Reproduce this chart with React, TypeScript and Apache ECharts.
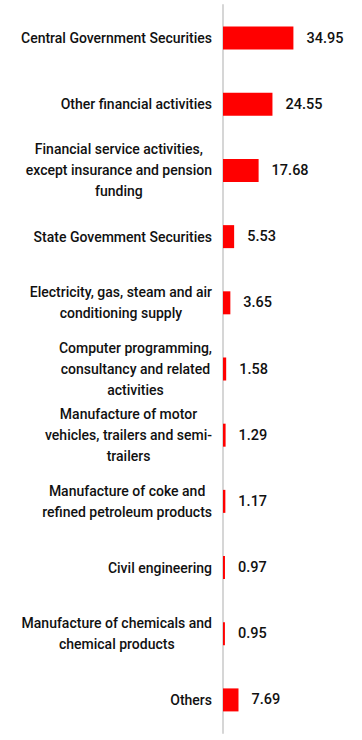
import React, { useEffect, useRef } from "react";
import * as echarts from "echarts";

const categories: string[] = [
  "Central Government Securities",
  "Other financial activities",
  "Financial service activities,\nexcept insurance and pension\nfunding",
  "State Govemment Securities",
  "Electricity, gas, steam and air\nconditioning supply",
  "Computer programming,\nconsultancy and related\nactivities",
  "Manufacture of motor\nvehicles, trailers and semi-\ntrailers",
  "Manufacture of coke and\nrefined petroleum products",
  "Civil engineering",
  "Manufacture of chemicals and\nchemical products",
  "Others",
];

const values: number[] = [34.95, 24.55, 17.68, 5.53, 3.65, 1.58, 1.29, 1.17, 0.97, 0.95, 7.69];

export default function App() {
  const ref = useRef<HTMLDivElement>(null);
  useEffect(() => {
    if (!ref.current) return;
    const chart = echarts.init(ref.current, undefined, { renderer: "svg" });
    chart.setOption({
      animation: false,
      grid: { left: 223, right: 0, top: 5, bottom: 7, containLabel: false },
      xAxis: {
        type: "value",
        min: 0,
        max: 69,
        show: false,
      },
      yAxis: {
        type: "category",
        inverse: true,
        data: categories,
        axisLine: { show: true, lineStyle: { color: "#d6d6d6", width: 2 } },
        axisTick: { show: false },
        splitLine: { show: false },
        axisLabel: {
          margin: 11,
          color: "#111111",
          fontFamily: "Roboto",
          fontSize: 14,
          fontWeight: 500,
          lineHeight: 21,
          formatter: (v: string) => `{c|${v}}`,
          rich: {
            c: {
              align: "center",
              color: "#111111",
              fontFamily: "Roboto",
              fontSize: 14,
              fontWeight: 500,
              lineHeight: 21,
            },
          },
        },
      },
      series: [
        {
          type: "bar",
          data: values,
          barWidth: 23,
          itemStyle: { color: "#ff0000" },
          label: {
            show: true,
            position: "right",
            distance: 13,
            color: "#111111",
            fontFamily: "Roboto",
            fontSize: 14.5,
            fontWeight: 500,
            formatter: (p: any) => p.value.toFixed(2),
          },
        },
      ],
    });
    return () => chart.dispose();
  }, []);
  return (
    <div
      ref={ref}
      style={{ position: "fixed", left: 0, top: 0, width: 362, height: 740, background: "#fff" }}
    />
  );
}
